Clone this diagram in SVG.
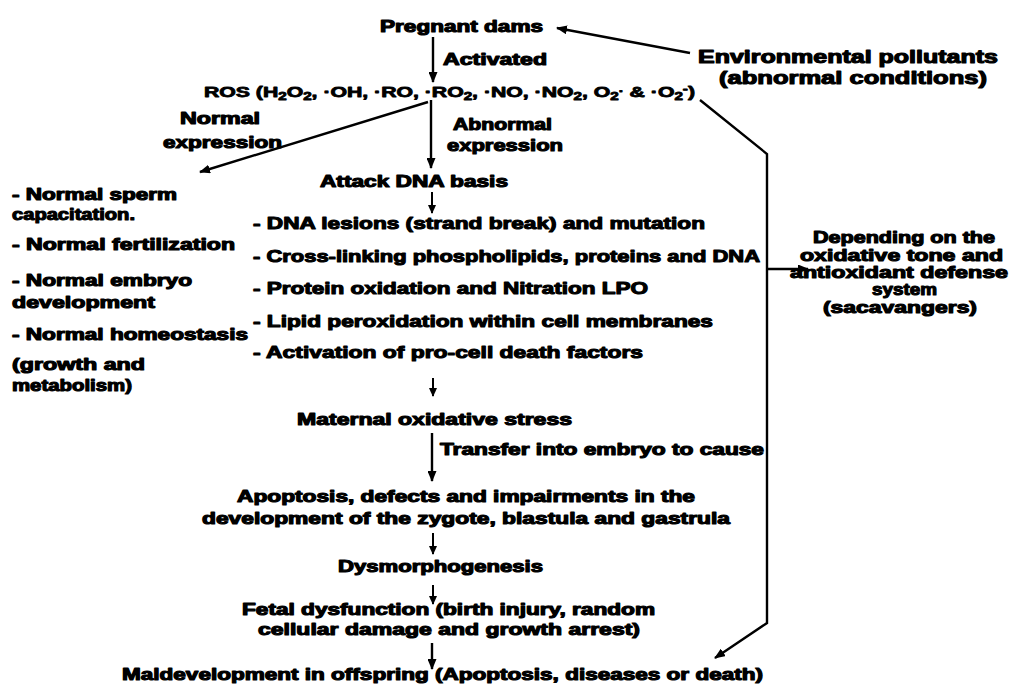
<svg xmlns="http://www.w3.org/2000/svg" width="1009" height="686" viewBox="0 0 1009 686">
<style>
text{font-family:"Liberation Sans",Arial,sans-serif;font-weight:bold;fill:#000;stroke:#000;stroke-width:1.1;stroke-linejoin:round}
.s16{font-size:16px}
.s17{font-size:17px}
.s18{font-size:18px}
.s14{font-size:14px;stroke-width:0.8}
.ln{stroke:#000;stroke-width:2.4;fill:none}
.ls{stroke:#000;stroke-width:2;fill:none}
</style>
<defs>
<marker id="ah" markerUnits="userSpaceOnUse" markerWidth="11" markerHeight="9" refX="10" refY="4.5" orient="auto">
<path d="M0,0 L11,4.5 L0,9 z" fill="#000"/>
</marker>
<marker id="as" markerUnits="userSpaceOnUse" markerWidth="9" markerHeight="8" refX="8" refY="4" orient="auto">
<path d="M0,0 L9,4 L0,8 z" fill="#000"/>
</marker>
</defs>
<rect width="1009" height="686" fill="#fff"/>
<g id="connectors">
<line class="ln" x1="690" y1="53" x2="557" y2="28" marker-end="url(#ah)"/>
<line class="ln" x1="433" y1="37" x2="433" y2="82" marker-end="url(#ah)"/>
<line class="ln" x1="428" y1="102" x2="200" y2="172" marker-end="url(#ah)"/>
<line class="ln" x1="431" y1="100" x2="431" y2="168" marker-end="url(#ah)"/>
<line class="ls" x1="432" y1="192" x2="432" y2="213" marker-end="url(#as)"/>
<line class="ls" x1="433" y1="378" x2="433" y2="396" marker-end="url(#as)"/>
<line class="ln" x1="432" y1="433" x2="432" y2="481" marker-end="url(#ah)"/>
<line class="ls" x1="433" y1="533" x2="433" y2="554" marker-end="url(#as)"/>
<line class="ls" x1="433" y1="585" x2="433" y2="604" marker-end="url(#as)"/>
<line class="ln" x1="432" y1="643" x2="432" y2="669" marker-end="url(#ah)"/>
<polyline class="ln" points="700,100 767,154 767,623 715,658" marker-end="url(#ah)"/>
<line class="ln" x1="767" y1="269" x2="808" y2="269" marker-end="url(#ah)"/>
</g>
<g id="pregnant"><text class="s16" x="380" y="32" textLength="163" lengthAdjust="spacingAndGlyphs">Pregnant dams</text></g>
<g id="activated"><text class="s16" x="443" y="65" textLength="104" lengthAdjust="spacingAndGlyphs">Activated</text></g>
<g id="env">
<text class="s18" x="698" y="63" textLength="300" lengthAdjust="spacingAndGlyphs">Environmental pollutants</text>
<text class="s18" x="719" y="84" textLength="268" lengthAdjust="spacingAndGlyphs">(abnormal conditions)</text>
</g>
<g id="ros"><text class="s14" x="204" y="97" textLength="491" lengthAdjust="spacingAndGlyphs">ROS (H<tspan dy="3" font-size="10">2</tspan><tspan dy="-3">O</tspan><tspan dy="3" font-size="10">2</tspan><tspan dy="-3">, ·OH, ·RO, ·RO</tspan><tspan dy="3" font-size="10">2</tspan><tspan dy="-3">, ·NO, ·NO</tspan><tspan dy="3" font-size="10">2</tspan><tspan dy="-3">, O</tspan><tspan dy="3" font-size="10">2</tspan><tspan dy="-5" font-size="10">·</tspan><tspan dy="2"> &amp; ·O</tspan><tspan dy="3" font-size="10">2</tspan><tspan dy="-8" font-size="10">-</tspan><tspan dy="5">)</tspan></text></g>
<g id="normal-label">
<text class="s16" x="180" y="124" textLength="80" lengthAdjust="spacingAndGlyphs">Normal</text>
<text class="s16" x="163" y="148" textLength="119" lengthAdjust="spacingAndGlyphs">expression</text>
</g>
<g id="abnormal-label">
<text class="s16" x="453" y="130" textLength="99" lengthAdjust="spacingAndGlyphs">Abnormal</text>
<text class="s16" x="447" y="151" textLength="116" lengthAdjust="spacingAndGlyphs">expression</text>
</g>
<g id="normal-list">
<text class="s16" x="12" y="200" textLength="165" lengthAdjust="spacingAndGlyphs">- Normal sperm</text>
<text class="s16" x="12" y="220" textLength="123" lengthAdjust="spacingAndGlyphs">capacitation.</text>
<text class="s16" x="12" y="250" textLength="223" lengthAdjust="spacingAndGlyphs">- Normal fertilization</text>
<text class="s16" x="12" y="286" textLength="180" lengthAdjust="spacingAndGlyphs">- Normal embryo</text>
<text class="s16" x="12" y="308" textLength="143" lengthAdjust="spacingAndGlyphs">development</text>
<text class="s16" x="12" y="340" textLength="236" lengthAdjust="spacingAndGlyphs">- Normal homeostasis</text>
<text class="s16" x="12" y="370" textLength="133" lengthAdjust="spacingAndGlyphs">(growth and</text>
<text class="s16" x="12" y="391" textLength="120" lengthAdjust="spacingAndGlyphs">metabolism)</text>
</g>
<g id="attack"><text class="s16" x="320" y="187" textLength="188" lengthAdjust="spacingAndGlyphs">Attack DNA basis</text></g>
<g id="effects">
<text class="s17" x="253" y="229" textLength="452" lengthAdjust="spacingAndGlyphs">- DNA lesions (strand break) and mutation</text>
<text class="s17" x="253" y="262" textLength="507" lengthAdjust="spacingAndGlyphs">- Cross-linking phospholipids, proteins and DNA</text>
<text class="s17" x="253" y="294" textLength="395" lengthAdjust="spacingAndGlyphs">- Protein oxidation and Nitration LPO</text>
<text class="s17" x="253" y="327" textLength="460" lengthAdjust="spacingAndGlyphs">- Lipid peroxidation within cell membranes</text>
<text class="s17" x="253" y="358" textLength="390" lengthAdjust="spacingAndGlyphs">- Activation of pro-cell death factors</text>
</g>
<g id="depending">
<text class="s16" x="813" y="243" textLength="182" lengthAdjust="spacingAndGlyphs">Depending on the</text>
<text class="s16" x="800" y="261" textLength="203" lengthAdjust="spacingAndGlyphs">oxidative tone and</text>
<text class="s16" x="790" y="278" textLength="218" lengthAdjust="spacingAndGlyphs">antioxidant defense</text>
<text class="s16" x="872" y="295" textLength="65" lengthAdjust="spacingAndGlyphs">system</text>
<text class="s16" x="823" y="313" textLength="154" lengthAdjust="spacingAndGlyphs">(sacavangers)</text>
</g>
<g id="maternal"><text class="s16" x="297" y="425" textLength="275" lengthAdjust="spacingAndGlyphs">Maternal oxidative stress</text></g>
<g id="transfer"><text class="s16" x="440" y="455" textLength="324" lengthAdjust="spacingAndGlyphs">Transfer into embryo to cause</text></g>
<g id="apoptosis">
<text class="s16" x="237" y="502" textLength="458" lengthAdjust="spacingAndGlyphs">Apoptosis, defects and impairments in the</text>
<text class="s16" x="202" y="524" textLength="528" lengthAdjust="spacingAndGlyphs">development of the zygote, blastula and gastrula</text>
</g>
<g id="dysmorph"><text class="s16" x="338" y="572" textLength="205" lengthAdjust="spacingAndGlyphs">Dysmorphogenesis</text></g>
<g id="fetal">
<text class="s16" x="242" y="615" textLength="413" lengthAdjust="spacingAndGlyphs">Fetal dysfunction (birth injury, random</text>
<text class="s16" x="258" y="635" textLength="382" lengthAdjust="spacingAndGlyphs">cellular damage and growth arrest)</text>
</g>
<g id="maldevelopment"><text class="s16" x="122" y="680" textLength="641" lengthAdjust="spacingAndGlyphs">Maldevelopment in offspring (Apoptosis, diseases or death)</text></g>
</svg>
